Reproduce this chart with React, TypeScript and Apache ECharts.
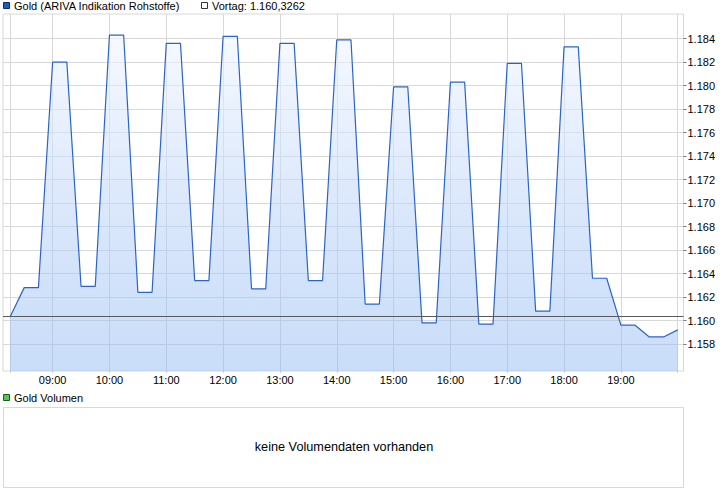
import React, { useEffect, useRef } from "react";
import * as echarts from "echarts";

// ---- data ----
const times = [
  "08:15", "08:30", "08:45", "09:00", "09:15", "09:30", "09:45", "10:00", "10:15", "10:30", "10:45",
  "11:00", "11:15", "11:30", "11:45", "12:00", "12:15", "12:30", "12:45", "13:00", "13:15", "13:30",
  "13:45", "14:00", "14:15", "14:30", "14:45", "15:00", "15:15", "15:30", "15:45", "16:00", "16:15",
  "16:30", "16:45", "17:00", "17:15", "17:30", "17:45", "18:00", "18:15", "18:30", "18:45", "19:00",
  "19:15", "19:30", "19:45", "20:00",
];
const prices = [
  1160.3, 1162.8, 1162.8, 1182.0, 1182.0, 1162.9, 1162.9, 1184.3, 1184.3, 1162.4, 1162.4,
  1183.6, 1183.6, 1163.4, 1163.4, 1184.2, 1184.2, 1162.7, 1162.7, 1183.6, 1183.6, 1163.4,
  1163.4, 1183.9, 1183.9, 1161.4, 1161.4, 1179.9, 1179.9, 1159.8, 1159.8, 1180.3, 1180.3,
  1159.7, 1159.7, 1181.9, 1181.9, 1160.8, 1160.8, 1183.3, 1183.3, 1163.6, 1163.6, 1159.6,
  1159.6, 1158.6, 1158.6, 1159.2,
];
const vortag = 1160.3262;
const yTicks = [1158, 1160, 1162, 1164, 1166, 1168, 1170, 1172, 1174, 1176, 1178, 1180, 1182, 1184];
const xGridTimes = ["08:15", "09:00", "10:00", "11:00", "12:00", "13:00", "14:00", "15:00", "16:00", "17:00", "18:00", "19:00", "20:00"];
const xLabelTimes = ["09:00", "10:00", "11:00", "12:00", "13:00", "14:00", "15:00", "16:00", "17:00", "18:00", "19:00"];
const seriesName = "Gold (ARIVA Indikation Rohstoffe)";
const volumeName = "Gold Volumen";
const noVolumeText = "keine Volumendaten vorhanden";

const FONT = "'Liberation Sans', Arial, sans-serif";

const toMin = (t: string) => {
  const [h, m] = t.split(":").map(Number);
  return h * 60 + m;
};
const fmtTime = (v: number) => {
  const h = Math.floor(v / 60);
  const m = Math.round(v - h * 60);
  return `${String(h).padStart(2, "0")}:${String(m).padStart(2, "0")}`;
};
const fmtDe = (v: number, dec: number) => {
  const s = v.toFixed(dec);
  const [ip, fp] = s.split(".");
  const withSep = ip.replace(/\B(?=(\d{3})+(?!\d))/g, ".");
  return fp ? `${withSep},${fp}` : withSep;
};

export default function App() {
  const ref = useRef<HTMLDivElement>(null);
  useEffect(() => {
    if (!ref.current) return;
    const chart = echarts.init(ref.current, undefined, { renderer: "svg" });
    const data = times.map((t, i) => [toMin(t), prices[i]]);
    chart.setOption({
      animation: false,
      backgroundColor: "#ffffff",
      textStyle: { fontFamily: FONT },
      grid: {
        left: 3,
        right: 42.5,
        top: 14,
        bottom: 125,
        show: true,
        borderColor: "#d8d8d8",
        borderWidth: 1,
        backgroundColor: "transparent",
      },
      xAxis: {
        type: "value",
        min: 487.6,
        max: 1206.1,
        axisLine: { show: false },
        axisTick: {
          show: true,
          length: 2,
          lineStyle: { color: "#cccccc" },
          customValues: xGridTimes.map(toMin),
        },
        axisLabel: {
          customValues: xLabelTimes.map(toMin),
          formatter: (v: number) => fmtTime(v),
          color: "#000000",
          fontSize: 11,
          fontFamily: FONT,
          margin: 3,
        },
        splitLine: { show: true, lineStyle: { color: "#d8d8d8", width: 1 } },
      },
      yAxis: {
        type: "value",
        position: "right",
        min: 1155.7,
        max: 1186.1,
        axisLine: { show: false },
        axisTick: {
          show: true,
          length: 3,
          lineStyle: { color: "#777777" },
          customValues: yTicks,
        },
        axisLabel: {
          customValues: yTicks,
          formatter: (v: number) => fmtDe(v, 0),
          color: "#000000",
          fontSize: 11,
          fontFamily: FONT,
          margin: 4,
        },
        splitLine: { show: true, lineStyle: { color: "#d8d8d8", width: 1 } },
      },
      series: [
        {
          name: seriesName,
          type: "line",
          data,
          showSymbol: false,
          symbol: "none",
          lineStyle: { color: "#2a64c8", width: 1.2 },
          areaStyle: {
            color: new echarts.graphic.LinearGradient(0, 0, 0, 1, [
              { offset: 0, color: "rgba(242,247,255,0.9)" },
              { offset: 1, color: "rgba(138,180,242,0.65)" },
            ]),
          },
          markLine: {
            silent: true,
            symbol: ["none", "none"],
            label: { show: false },
            lineStyle: { color: "#5a5a5a", width: 1, type: "solid" },
            data: [{ yAxis: vortag }],
          },
        },
      ],
      graphic: [
        {
          type: "rect",
          shape: { x: 3.5, y: 2.5, width: 6, height: 6 },
          style: { fill: "#2458c0", stroke: "#0d2b66", lineWidth: 1 },
        },
        {
          type: "text",
          x: 14,
          y: 6,
          style: {
            text: seriesName,
            fill: "#000000",
            font: `11px ${FONT}`,
            verticalAlign: "middle",
            align: "left",
          },
        },
        {
          type: "rect",
          shape: { x: 201.5, y: 2.5, width: 6, height: 6 },
          style: { fill: "#ffffff", stroke: "#333333", lineWidth: 1 },
        },
        {
          type: "text",
          x: 212,
          y: 6,
          style: {
            text: `Vortag: ${fmtDe(vortag, 4)}`,
            fill: "#000000",
            font: `11px ${FONT}`,
            verticalAlign: "middle",
            align: "left",
          },
        },
        {
          type: "rect",
          shape: { x: 3.5, y: 394.5, width: 6, height: 6 },
          style: { fill: "#55c755", stroke: "#1f5a1f", lineWidth: 1 },
        },
        {
          type: "text",
          x: 14,
          y: 398,
          style: {
            text: volumeName,
            fill: "#000000",
            font: `11px ${FONT}`,
            verticalAlign: "middle",
            align: "left",
          },
        },
        {
          type: "rect",
          shape: { x: 3.5, y: 407.5, width: 680, height: 80 },
          style: { fill: "#ffffff", stroke: "#d8d8d8", lineWidth: 1 },
        },
        {
          type: "text",
          x: 344,
          y: 447,
          style: {
            text: noVolumeText,
            fill: "#000000",
            font: `12.7px ${FONT}`,
            verticalAlign: "middle",
            align: "center",
          },
        },
      ],
    });
    return () => chart.dispose();
  }, []);
  return (
    <div
      ref={ref}
      style={{ position: "fixed", left: 0, top: 0, width: 726, height: 496, background: "#fff" }}
    />
  );
}
